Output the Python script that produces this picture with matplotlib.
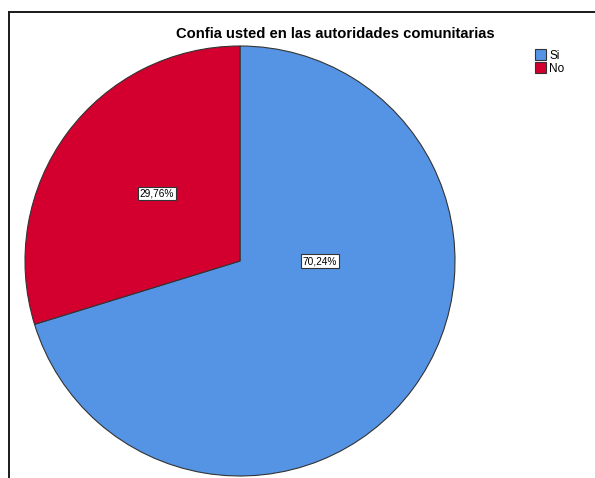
import matplotlib
matplotlib.use('Agg')
from matplotlib import pyplot as plt
from matplotlib.lines import Line2D
from matplotlib.patches import Patch

plt.rcParams['font.family'] = ['Liberation Sans', 'DejaVu Sans']

categorias = ['Si', 'No']
porcentajes = [70.24, 29.76]
colores = ['#5594E5', '#D3002F']
etiquetas = ['70,24%', '29,76%']

W, H = 595, 478
fig = plt.figure(figsize=(W / 100, H / 100), dpi=100)

# marco (cortado a la derecha y abajo)
fig.add_artist(Line2D([8.5 / W, 8.5 / W], [0, 1 - 11.5 / H], color='#1a1a1a', lw=1.4))
fig.add_artist(Line2D([8.5 / W, 1], [1 - 11.5 / H, 1 - 11.5 / H], color='#1a1a1a', lw=1.4))

cx, cy, r = 240, 261, 215
ax = fig.add_axes([(cx - r) / W, 1 - (cy + r) / H, 2 * r / W, 2 * r / H])
wedges, texts = ax.pie(porcentajes, colors=colores, startangle=90, counterclock=False,
                       wedgeprops=dict(edgecolor='#333333', linewidth=0.8))
ax.set_xlim(-1, 1)
ax.set_ylim(-1, 1)
ax.set_aspect('equal')
ax.axis('off')

pos = [(0.372, 0.0), (-0.386, 0.316)]
for et, p in zip(etiquetas, pos):
    ax.text(p[0], p[1], et, ha='center', va='center', fontsize=7.3,
            bbox=dict(boxstyle='square,pad=0.15', fc='white', ec='#333333', lw=0.8))

fig.text(335 / W, 1 - 34 / H, 'Confia usted en las autoridades comunitarias',
         ha='center', va='center', fontsize=10.6, fontweight='bold')

handles = [Patch(facecolor=c, edgecolor='#333333', linewidth=0.8) for c in colores]
fig.legend(handles, categorias, loc='upper left', bbox_to_anchor=(527 / W, 1 - 41 / H),
           frameon=False, fontsize=8.5, handlelength=0.95, handleheight=1.0,
           handletextpad=0.25, labelspacing=0.05, borderpad=0.2)

plt.savefig('out.png', dpi=100)
